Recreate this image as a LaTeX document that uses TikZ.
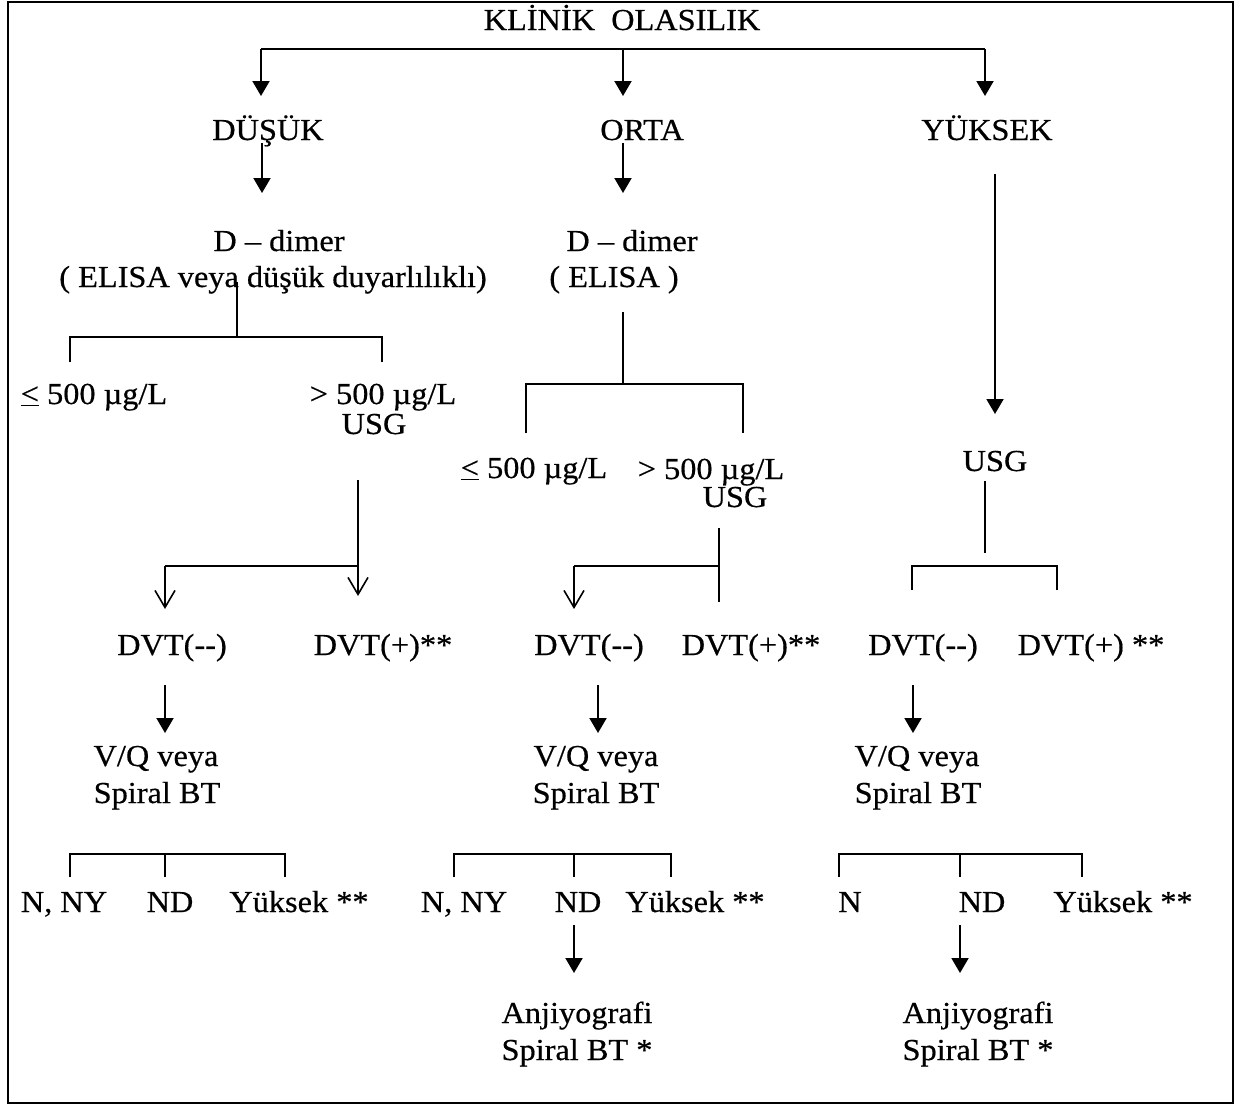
\documentclass[tikz,border=0pt]{standalone}
\usepackage{fontspec}
\setmainfont{Liberation Serif}[FakeStretch=1.06,FakeBold=0.5]
\usetikzlibrary{arrows.meta}
\tikzset{
  lbl/.style={anchor=base, inner sep=0pt, font=\fontsize{30.5}{37}\selectfont},
  conn/.style={line width=2pt},
  farrow/.style={conn, -{Triangle[length=15pt,width=17pt]}},
  oarrow/.style={conn, -{Straight Barb[length=17pt,width=20pt,line width=1.6pt]}},
}
\begin{document}
\begin{tikzpicture}[x=1pt,y=-1pt]
\useasboundingbox (0,0) rectangle (1241,1106);
\draw[line width=2pt] (8,1.5) rectangle (1233,1103);

% ---- texts ----
\node[lbl] (title) at (622,30) {KLİNİK\ \ OLASILIK};
\node[lbl] (dusuk) at (268,140) {DÜŞÜK};
\node[lbl] (orta) at (642,140) {ORTA};
\node[lbl] (yuksek) at (987,140) {YÜKSEK};
\node[lbl] (dimA) at (279,251) {D – dimer};
\node[lbl] (dimAb) at (273,287) {( ELISA veya düşük duyarlılıklı)};
\node[lbl] (dimB) at (632,251) {D – dimer};
\node[lbl] (dimBb) at (614,287) {( ELISA )};
\node[lbl] (leA) at (94,404) {\underline{<} 500 µg/L};
\node[lbl] (gtA) at (383,404) {> 500 µg/L};
\node[lbl] (usgA) at (374,434) {USG};
\node[lbl] (leB) at (534,478) {\underline{<} 500 µg/L};
\node[lbl] (gtB) at (711,479) {> 500 µg/L};
\node[lbl] (usgB) at (735,507) {USG};
\node[lbl] (usgC) at (995,471) {USG};
\node[lbl] (dvtAn) at (172,655) {DVT(-{}-)};
\node[lbl] (dvtAp) at (383,655) {DVT(+)**};
\node[lbl] (dvtBn) at (589,655) {DVT(-{}-)};
\node[lbl] (dvtBp) at (751,655) {DVT(+)**};
\node[lbl] (dvtCn) at (923,655) {DVT(-{}-)};
\node[lbl] (dvtCp) at (1091,655) {DVT(+) **};
\node[lbl] (vqA) at (156,766) {V/Q veya};
\node[lbl] (vqAb) at (157,803) {Spiral BT};
\node[lbl] (vqB) at (596,766) {V/Q veya};
\node[lbl] (vqBb) at (596,803) {Spiral BT};
\node[lbl] (vqC) at (917,766) {V/Q veya};
\node[lbl] (vqCb) at (918,803) {Spiral BT};
\node[lbl] (nA) at (64,912) {N, NY};
\node[lbl] (ndA) at (170,912) {ND};
\node[lbl] (hiA) at (299,912) {Yüksek **};
\node[lbl] (nB) at (464,912) {N, NY};
\node[lbl] (ndB) at (578,912) {ND};
\node[lbl] (hiB) at (695,912) {Yüksek **};
\node[lbl] (nC) at (850,912) {N};
\node[lbl] (ndC) at (982,912) {ND};
\node[lbl] (hiC) at (1123,912) {Yüksek **};
\node[lbl] (anB) at (577,1023) {Anjiyografi};
\node[lbl] (anBb) at (577,1060) {Spiral BT *};
\node[lbl] (anC) at (978,1023) {Anjiyografi};
\node[lbl] (anCb) at (978,1060) {Spiral BT *};

% ---- junction coordinates ----
\coordinate (tL) at (261,49);  \coordinate (tM) at (623,49);  \coordinate (tR) at (985,49);
\coordinate (aL) at (261,96);  \coordinate (aM) at (623,96);  \coordinate (aR) at (985,96);
\coordinate (dsA) at (262,143); \coordinate (deA) at (262,193);
\coordinate (dsB) at (623,143); \coordinate (deB) at (623,193);
\coordinate (ys) at (995,174); \coordinate (ye) at (995,414);
% left D-dimer bracket
\coordinate (bA0) at (237,282); \coordinate (bA1) at (237,337);
\coordinate (bAl) at (70,337); \coordinate (bAr) at (382,337);
\coordinate (bAlt) at (70,362); \coordinate (bArt) at (382,362);
% middle D-dimer bracket
\coordinate (bB0) at (623,312); \coordinate (bB1) at (623,384);
\coordinate (bBl) at (526,384); \coordinate (bBr) at (743,384);
\coordinate (bBlt) at (526,433); \coordinate (bBrt) at (743,433);
% USG branches
\coordinate (uA0) at (358,480); \coordinate (uAj) at (358,566); \coordinate (uAe) at (358,596);
\coordinate (uAl) at (165,566); \coordinate (uAle) at (165,609);
\coordinate (uB0) at (719,528); \coordinate (uBj) at (719,566); \coordinate (uBe) at (719,602);
\coordinate (uBl) at (574,566); \coordinate (uBle) at (574,609);
\coordinate (uC0) at (985,481); \coordinate (uC1) at (985,553);
\coordinate (uCl) at (912,566); \coordinate (uCr) at (1057,566);
\coordinate (uClt) at (912,590); \coordinate (uCrt) at (1057,590);
% DVT(--) arrows
\coordinate (vA0) at (165,685); \coordinate (vA1) at (165,733);
\coordinate (vB0) at (598,685); \coordinate (vB1) at (598,733);
\coordinate (vC0) at (913,685); \coordinate (vC1) at (913,733);
% bottom brackets
\foreach \n/\a/\b/\c in {A/70/165/285, B/454/574/671, C/839/960/1082}{
  \coordinate (k\n l) at (\a,854); \coordinate (k\n m) at (\b,854); \coordinate (k\n r) at (\c,854);
  \coordinate (k\n lt) at (\a,877); \coordinate (k\n mt) at (\b,877); \coordinate (k\n rt) at (\c,877);
}
\coordinate (nB0) at (574,925); \coordinate (nB1) at (574,973);
\coordinate (nC0) at (960,925); \coordinate (nC1) at (960,973);

% ---- connectors ----
\draw[conn] (tL) -- (tR);
\draw[farrow] (tL) -- (aL);
\draw[farrow] (tM) -- (aM);
\draw[farrow] (tR) -- (aR);
\draw[farrow] (dsA) -- (deA);
\draw[farrow] (dsB) -- (deB);
\draw[farrow] (ys) -- (ye);

\draw[conn] (bA0) -- (bA1);
\draw[conn] (bAlt) -- (bAl) -- (bAr) -- (bArt);
\draw[conn] (bB0) -- (bB1);
\draw[conn] (bBlt) -- (bBl) -- (bBr) -- (bBrt);

\draw[oarrow] (uA0) -- (uAe);
\draw[conn] (uAj) -- (uAl);
\draw[oarrow] (uAl) -- (uAle);
\draw[conn] (uB0) -- (uBe);
\draw[conn] (uBj) -- (uBl);
\draw[oarrow] (uBl) -- (uBle);
\draw[conn] (uC0) -- (uC1);
\draw[conn] (uClt) -- (uCl) -- (uCr) -- (uCrt);

\draw[farrow] (vA0) -- (vA1);
\draw[farrow] (vB0) -- (vB1);
\draw[farrow] (vC0) -- (vC1);

\foreach \n in {A,B,C}{
  \draw[conn] (k\n lt) -- (k\n l) -- (k\n r) -- (k\n rt);
  \draw[conn] (k\n m) -- (k\n mt);
}
\draw[farrow] (nB0) -- (nB1);
\draw[farrow] (nC0) -- (nC1);
\end{tikzpicture}
\end{document}
